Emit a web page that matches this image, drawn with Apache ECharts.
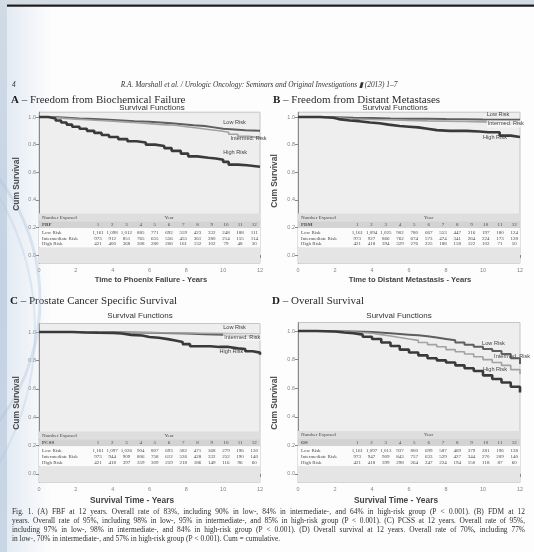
<!DOCTYPE html>
<html>
<head>
<meta charset="utf-8">
<script src="https://cdn.jsdelivr.net/npm/echarts@6/dist/echarts.min.js"></script>
<style>
  html, body { margin: 0; padding: 0; background: #fdfdfd; }
  #chart { width: 534px; height: 552px; }
</style>
</head>
<body>
<div id="chart"></div>
<script>
// ---- Axis ticks and table columns ----
const years = [1, 2, 3, 4, 5, 6, 7, 8, 9, 10, 11, 12];
const xTicks = [0, 2, 4, 6, 8, 10, 12];
const yTicks = [0, 0.2, 0.4, 0.6, 0.8, 1.0];
const riskGroups = ['Low Risk', 'Intermediate Risk', 'High Risk'];
const curveNames = ['Low Risk', 'Intermed. Risk', 'High Risk'];

// ---- A: freedom from biochemical failure, [years, cumulative survival] ----
const fbfLow = [[0,1],[0.8,0.995],[1.5,0.99],[2.2,0.985],[3,0.98],[3.8,0.975],[4.5,0.97],[5.2,0.965],[6,0.96],[6.6,0.955],[7.2,0.948],[7.8,0.94],[8.4,0.935],[9,0.925],[9.5,0.915],[10,0.91],[10.6,0.905],[11.2,0.9],[12,0.9]];
const fbfInt = [[0,1],[0.7,0.99],[1.4,0.985],[2,0.98],[2.6,0.975],[3.3,0.97],[4,0.965],[4.6,0.958],[5.3,0.952],[6,0.945],[6.7,0.94],[7.4,0.93],[8,0.92],[8.6,0.91],[9.2,0.9],[9.8,0.89],[10.3,0.875],[10.8,0.86],[11.4,0.85],[12,0.84]];
const fbfHigh = [[0,1],[0.5,0.99],[0.9,0.975],[1.2,0.96],[1.5,0.945],[1.8,0.93],[2.2,0.915],[2.6,0.9],[3,0.885],[3.4,0.87],[3.8,0.855],[4.3,0.84],[4.8,0.825],[5.3,0.815],[5.8,0.8],[6.3,0.79],[6.8,0.775],[7.2,0.755],[7.7,0.735],[8.1,0.715],[8.6,0.705],[9.2,0.7],[9.6,0.69],[10,0.675],[10.3,0.655],[10.8,0.65],[11.3,0.64],[12,0.64]];
const fbfExpLow = ['1,161','1,098','1,012','885','771','692','559','423','332','248','188','111'];
const fbfExpInt = ['973','912','851','765','655','556','455','361','280','214','155','114'];
const fbfExpHigh = ['421','400','368','308','280','206','161','132','102','79','48','30'];

// ---- B: freedom from distant metastases ----
const fdmLow = [[0,1],[1,0.998],[2,0.995],[3,0.993],[4,0.99],[5,0.988],[6,0.987],[7,0.985],[8,0.984],[9,0.982],[10,0.98],[12,0.98]];
const fdmInt = [[0,1],[1.5,0.995],[2,0.99],[2.5,0.985],[3,0.982],[4,0.978],[5,0.975],[6,0.972],[7,0.97],[8,0.968],[9,0.965],[10,0.96],[11,0.955],[12,0.95]];
const fdmHigh = [[0,1],[1.2,0.995],[1.9,0.985],[2.2,0.975],[2.8,0.97],[3.3,0.96],[3.9,0.955],[4.4,0.945],[4.9,0.935],[5.5,0.93],[6,0.925],[6.5,0.915],[7,0.905],[7.5,0.9],[8.2,0.9],[9.1,0.895],[9.8,0.89],[10.3,0.89],[10.9,0.865],[11.5,0.855],[12,0.85]];
const fdmExpLow = ['1,161','1,094','1,025','902','780','667','553','447','316','197','180','124'];
const fdmExpInt = ['973','927','866','762','674','573','474','341','264','224','173','128'];
const fdmExpHigh = ['421','418','394','329','276','225','188','158','122','102','71','50'];

// ---- C: prostate cancer specific survival ----
const pcssLow = [[0,1],[2,0.998],[4,0.995],[6,0.99],[8,0.985],[9,0.98],[10,0.975],[11,0.972],[12,0.97]];
const pcssInt = [[0,1],[2,0.997],[4,0.995],[6,0.993],[8,0.99],[10,0.985],[12,0.98]];
const pcssHigh = [[0,1],[1.8,0.997],[2.5,0.995],[3.2,0.993],[4,0.99],[4.5,0.98],[5,0.975],[5.6,0.965],[6,0.96],[6.5,0.95],[7,0.94],[7.4,0.93],[7.8,0.915],[8.2,0.9],[8.8,0.9],[9.3,0.895],[9.8,0.895],[10.3,0.885],[10.8,0.88],[11.2,0.865],[11.6,0.855],[12,0.84]];
const pcssExpLow = ['1,161','1,097','1,026','904','807','693','582','471','368','279','196','130'];
const pcssExpInt = ['973','944','909','806','758','612','526','428','332','252','190','140'];
const pcssExpHigh = ['421','418','397','359','309','259','218','186','149','116','96','60'];

// ---- D: overall survival ----
const osLow = [[0,1],[1,0.999],[2,0.997],[3,0.993],[4,0.985],[5,0.98],[5.5,0.975],[6,0.97],[6.5,0.963],[7,0.955],[7.5,0.945],[8,0.935],[8.5,0.92],[9,0.905],[9.5,0.89],[10,0.875],[10.5,0.86],[11,0.84],[11.5,0.81],[12,0.77]];
const osInt = [[0,1],[1,0.998],[2,0.994],[3,0.985],[4,0.975],[4.5,0.965],[5,0.955],[5.5,0.945],[6,0.935],[6.5,0.92],[7,0.905],[7.5,0.89],[8,0.87],[8.5,0.855],[9,0.84],[9.5,0.82],[10,0.8],[10.5,0.78],[11,0.76],[11.5,0.73],[12,0.7]];
const osHigh = [[0,1],[1,0.997],[2,0.99],[2.5,0.985],[3,0.975],[3.5,0.96],[4,0.945],[4.5,0.92],[5,0.895],[5.5,0.87],[6,0.85],[6.5,0.83],[7,0.81],[7.5,0.795],[8,0.78],[8.5,0.76],[9,0.74],[9.5,0.72],[10,0.69],[10.5,0.665],[11,0.64],[11.5,0.61],[12,0.57]];
const osExpLow = ['1,161','1,097','1,013','937','800','699','587','469','379','281','196','138'];
const osExpInt = ['973','947','909','843','757','633','529','427','344','270','209','140'];
const osExpHigh = ['421','418','399','298','264','247','224','194','150','118','87','60'];

// ---- Text ----
const pageNumber = '4';
const runningHead = 'R.A. Marshall et al. / Urologic Oncology: Seminars and Original Investigations \u25AE (2013) 1\u20137';
const captionLines = [
  'Fig. 1. (A) FBF at 12 years. Overall rate of 83%, including 90% in low-, 84% in intermediate-, and 64% in high-risk group (P < 0.001). (B) FDM at 12',
  'years. Overall rate of 95%, including 98% in low-, 95% in intermediate-, and 85% in high-risk group (P < 0.001). (C) PCSS at 12 years. Overall rate of 95%,',
  'including 97% in low-, 98% in intermediate-, and 84% in high-risk group (P < 0.001). (D) Overall survival at 12 years. Overall rate of 70%, including 77%',
  'in low-, 70% in intermediate-, and 57% in high-risk group (P < 0.001). Cum = cumulative.'
];

const panels = [
  { letter: 'A', title: ' \u2013 Freedom from Biochemical Failure', code: 'FBF',
    xName: 'Time to Phoenix Failure - Years',
    curves: [fbfLow, fbfInt, fbfHigh], exposed: [fbfExpLow, fbfExpInt, fbfExpHigh],
    labelAt: [[10.0, 0.96], [10.4, 0.845], [10.0, 0.745]], labelBox: false },
  { letter: 'B', title: ' \u2013 Freedom from Distant Metastases', code: 'FDM',
    xName: 'Time to Distant Metastasis - Years',
    curves: [fdmLow, fdmInt, fdmHigh], exposed: [fdmExpLow, fdmExpInt, fdmExpHigh],
    labelAt: [[10.2, 1.02], [10.2, 0.95], [10.0, 0.855]], labelBox: true },
  { letter: 'C', title: ' \u2013 Prostate Cancer Specific Survival', code: 'PCSS',
    xName: 'Survival Time - Years',
    curves: [pcssLow, pcssInt, pcssHigh], exposed: [pcssExpLow, pcssExpInt, pcssExpHigh],
    labelAt: [[10.0, 1.035], [10.0, 0.965], [9.8, 0.866]], labelBox: true },
  { letter: 'D', title: ' \u2013 Overall Survival', code: 'OS',
    xName: 'Survival Time - Years',
    curves: [osLow, osInt, osHigh], exposed: [osExpLow, osExpInt, osExpHigh],
    labelAt: [[9.95, 0.916], [10.6, 0.825], [10.0, 0.734]], labelBox: false }
];

// ---- Page layout ----
const layout = [
  { left: 39, top: 112.2, width: 221, height: 151.1, yMax: 1.035, titleX: 11, titleY: 100, sfX: 152, sfY: 107.5, cumX: 17, cumY: 184, xnX: 151, xnY: 280, xnSize: 7.6 },
  { left: 298, top: 112.2, width: 222, height: 151.1, yMax: 1.035, titleX: 273, titleY: 100, sfX: 395, sfY: 107.5, cumX: 275, cumY: 181, xnX: 410, xnY: 280, xnSize: 7.6 },
  { left: 39, top: 323.5, width: 221, height: 159, yMax: 1.06, titleX: 10, titleY: 301, sfX: 140, sfY: 316, cumX: 17, cumY: 403, xnX: 132, xnY: 501, xnSize: 8.4 },
  { left: 298, top: 322.5, width: 222, height: 160, yMax: 1.06, titleX: 272, titleY: 301, sfX: 399, sfY: 316, cumX: 275, cumY: 403, xnX: 396, xnY: 501, xnSize: 8.4 }
];

const lineColors = ['#5e5e5e', '#a2a2a2', '#3a3a3a'];
const lineWidths = [2, 1.6, 2.6];
const Y_MIN = -0.06;

const SERIF = '"Liberation Serif", "Times New Roman", serif';
const SANS = '"Liberation Sans", Arial, sans-serif';

const chart = echarts.init(document.getElementById('chart'), null, { renderer: 'canvas' });

const grids = [], xAxes = [], yAxes = [], series = [];
panels.forEach((p, i) => {
  const L = layout[i];
  grids.push({ left: L.left, top: L.top, width: L.width, height: L.height, show: true,
    backgroundColor: '#eeeeee', borderColor: '#c6c6c6', borderWidth: 1 });
  xAxes.push({ gridIndex: i, type: 'value', min: 0, max: 12, interval: 2,
    axisLine: { show: true, lineStyle: { color: '#8a8a8a', width: 1 } },
    axisTick: { show: true, length: 3, lineStyle: { color: '#8a8a8a' } },
    axisLabel: { show: true, fontSize: 5.5, color: '#858585', margin: 4, fontFamily: SANS,
      customValues: xTicks },
    splitLine: { show: false } });
  yAxes.push({ gridIndex: i, type: 'value', min: Y_MIN, max: L.yMax,
    axisLine: { show: true, onZero: false, lineStyle: { color: '#8a8a8a', width: 1 } },
    axisTick: { show: true, length: 3, customValues: yTicks, lineStyle: { color: '#8a8a8a' } },
    axisLabel: { show: true, fontSize: 5.5, color: '#858585', margin: 3, fontFamily: SANS,
      customValues: yTicks, formatter: v => v.toFixed(1) },
    splitLine: { show: false } });

  // table bands behind the "Number Exposed" block
  series.push({ type: 'line', xAxisIndex: i, yAxisIndex: i, data: [], silent: true,
    markArea: { silent: true, data: [
      [{ yAxis: 0.30, itemStyle: { color: '#dedede' } }, { yAxis: 0.245 }],
      [{ yAxis: 0.245, itemStyle: { color: '#d3d3d3' } }, { yAxis: 0.195 }],
      [{ yAxis: 0.195, itemStyle: { color: '#fbfbfb' } }, { yAxis: 0.055 }],
      [{ yAxis: 0.055, itemStyle: { color: '#e5e5e5' } }, { yAxis: Y_MIN }]
    ] } });

  p.curves.forEach((c, g) => {
    series.push({ type: 'line', name: p.code + ' ' + riskGroups[g], xAxisIndex: i, yAxisIndex: i,
      data: c, step: 'end', symbol: 'none', showSymbol: false, silent: true,
      lineStyle: { color: lineColors[g], width: lineWidths[g] }, z: 3 + g });
  });
});

chart.setOption({
  animation: false,
  backgroundColor: '#fdfdfd',
  grid: grids, xAxis: xAxes, yAxis: yAxes, series: series
});

// ---- Text overlay ----
const measureCtx = document.createElement('canvas').getContext('2d');
function textWidth(str, font) { measureCtx.font = font; return measureCtx.measureText(str).width; }

const g = [];
function txt(x, y, text, font, fill, align, vAlign, extra) {
  g.push(Object.assign({ type: 'text', x: x, y: y, z: 100, silent: true,
    style: { text: text, font: font, fill: fill || '#333', align: align || 'left', verticalAlign: vAlign || 'middle' } }, extra || {}));
}

// backdrop around the page
g.push({ type: 'rect', shape: { x: 0, y: 0, width: 534, height: 4.5 }, style: { fill: '#d3dbe5' }, z: 90, silent: true });
g.push({ type: 'rect', shape: { x: 7, y: 4.5, width: 527, height: 2.2 }, style: { fill: '#1c1c1c' }, z: 91, silent: true });
g.push({ type: 'rect', shape: { x: 0, y: 0, width: 7, height: 552 },
  style: { fill: new echarts.graphic.LinearGradient(0, 0, 0, 1, [
    { offset: 0, color: '#d1dbe6' }, { offset: 0.5, color: '#c3d2e4' }, { offset: 1, color: '#c9d6e6' }]) }, z: 92, silent: true });
g.push({ type: 'rect', shape: { x: 7, y: 7, width: 45, height: 545 },
  style: { fill: new echarts.graphic.LinearGradient(0, 0, 1, 0, [
    { offset: 0, color: 'rgba(196,212,232,0.45)' }, { offset: 1, color: 'rgba(196,212,232,0)' }]) }, z: -1, silent: true });
g.push({ type: 'arc', shape: { cx: -160, cy: 300, r: 200, startAngle: -0.9, endAngle: 0.9 },
  style: { stroke: 'rgba(175,198,226,0.4)', lineWidth: 3, fill: null }, z: 93, silent: true });
g.push({ type: 'arc', shape: { cx: -230, cy: 330, r: 265, startAngle: -0.7, endAngle: 0.75 },
  style: { stroke: 'rgba(175,198,226,0.32)', lineWidth: 2, fill: null }, z: 93, silent: true });

// running head
txt(12, 85, pageNumber, 'italic 7.4px ' + SERIF, '#333');
txt(259, 85, runningHead, 'italic 7.4px ' + SERIF, '#333', 'center');

panels.forEach((p, i) => {
  const L = layout[i];
  // panel heading, slightly widened
  const fontB = 'bold 10px ' + SERIF;
  const head = [];
  head.push({ type: 'text', x: 0, y: 0, style: { text: p.letter, font: fontB, fill: '#1a1a1a', verticalAlign: 'middle' } });
  head.push({ type: 'text', x: textWidth(p.letter, fontB), y: 0, style: { text: p.title, font: '10px ' + SERIF, fill: '#2a2a2a', verticalAlign: 'middle' } });
  g.push({ type: 'group', x: L.titleX, y: L.titleY, scaleX: 1.1, z: 100, silent: true, children: head });

  txt(L.sfX, L.sfY, 'Survival Functions', '8px ' + SANS, '#333', 'center');
  // axis titles
  txt(L.cumX, L.cumY, 'Cum Survival', 'bold 8.4px ' + SANS, '#4a4a4a', 'center', 'middle', { rotation: Math.PI / 2 });
  txt(L.xnX, L.xnY, p.xName, 'bold ' + L.xnSize + 'px ' + SANS, '#444', 'center');

  // curve labels
  p.labelAt.forEach((pt, k) => {
    const pos = chart.convertToPixel({ xAxisIndex: i, yAxisIndex: i }, pt);
    const extra = p.labelBox && k === 1
      ? { style: { text: curveNames[k], font: '5.6px ' + SANS, fill: '#444', align: 'left', verticalAlign: 'middle',
          backgroundColor: 'rgba(250,250,250,0.75)', padding: [0.5, 1] } }
      : {};
    txt(pos[0], pos[1], curveNames[k], '5.6px ' + SANS, '#444', 'left', 'middle', extra);
  });

  // "Number Exposed" table
  const rowY = v => chart.convertToPixel({ xAxisIndex: i, yAxisIndex: i }, [0, v])[1];
  const colX = c => L.left + L.width * (0.267 + (c - 1) * 0.0643);
  const tf = '5px ' + SERIF;
  const tfb = 'bold 5px ' + SERIF;
  const tc = '#4a4a4a';
  txt(L.left + 3, rowY(0.272), 'Number Exposed', tf, tc);
  txt(colX(6), rowY(0.272), 'Year', tf, tc, 'center');
  txt(L.left + 3, rowY(0.22), p.code, tfb, tc);
  years.forEach(y => txt(colX(y), rowY(0.22), String(y), tf, tc, 'center'));
  const rows = [0.163, 0.121, 0.08];
  riskGroups.forEach((name, k) => {
    txt(L.left + 3, rowY(rows[k]), name, tf, tc);
    p.exposed[k].forEach((n, c) => txt(colX(c + 1), rowY(rows[k]), n, tf, tc, 'center'));
  });
});

// caption, justified between the page margins
const capFont = '7.4px ' + SERIF;
const capY = [512, 521, 530, 539];
const capX0 = 12, capX1 = 525;
captionLines.forEach((line, li) => {
  const words = line.split(' ');
  const widths = words.map(w => textWidth(w, capFont));
  const total = widths.reduce((a, b) => a + b, 0);
  const justify = li < captionLines.length - 1;
  const gap = justify ? (capX1 - capX0 - total) / (words.length - 1) : textWidth(' ', capFont);
  let x = capX0;
  words.forEach((w, k) => {
    txt(x, capY[li], w, capFont, '#2e2e2e');
    x += widths[k] + gap;
  });
});

chart.setOption({ graphic: { elements: g } });
</script>
</body>
</html>
